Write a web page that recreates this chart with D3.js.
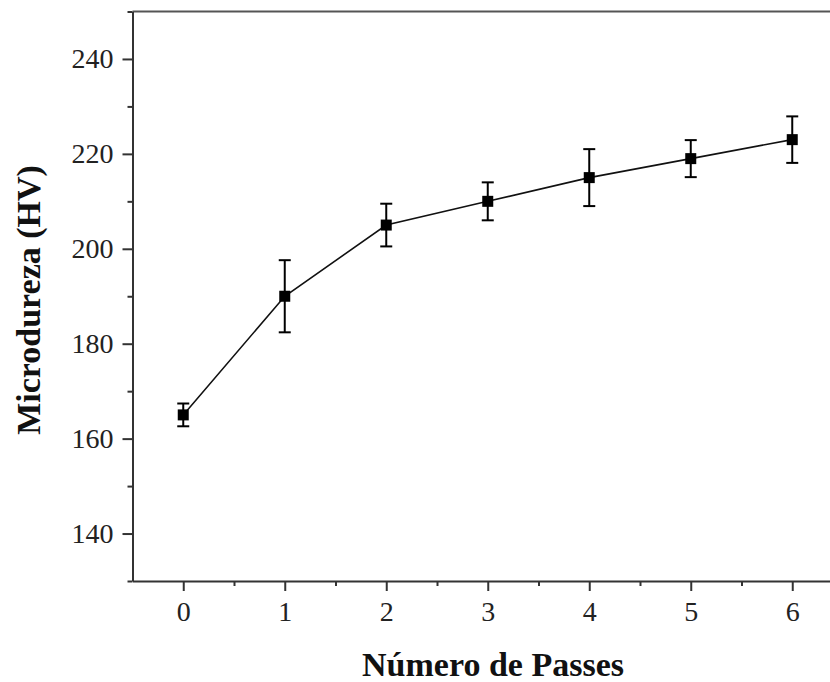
<!DOCTYPE html>
<html><head><meta charset="utf-8">
<script src="https://cdn.jsdelivr.net/npm/d3@7"></script>
<style>body{margin:0;background:#fff;overflow:hidden}svg{display:block}</style>
</head><body>
<svg id="c" width="830" height="682"></svg>
<script>
const passes = [0, 1, 2, 3, 4, 5, 6];
const hardness = [165, 190, 205, 210, 215, 219, 223];
const errors = [2.4, 7.6, 4.5, 4.0, 6.0, 3.9, 4.9];
const yTicks = [140, 160, 180, 200, 220, 240];
const xTicks = [0, 1, 2, 3, 4, 5, 6];

const svg = d3.select("#c");
const L = 132.5, T = 11.5, B = 581, R = 843;
const x = d3.scaleLinear().domain([-0.5, 6.5]).range([L, R]);
const y = d3.scaleLinear().domain([130, 250]).range([B, T]);
const font = "'Liberation Serif','Times New Roman',serif";

// top border
svg.append("line").attr("x1", L).attr("x2", 830).attr("y1", T).attr("y2", T)
  .attr("stroke", "#555").attr("stroke-width", 2);

// x axis
const xa = svg.append("g").attr("transform", `translate(0,${B})`)
  .call(d3.axisBottom(x).tickValues(xTicks).tickSize(10).tickSizeOuter(0).tickPadding(10).tickFormat(d3.format("d")));
const xm = svg.append("g").attr("transform", `translate(0,${B})`)
  .call(d3.axisBottom(x).tickValues(d3.range(-0.5, 6.6, 1).filter(v => v > -0.5)).tickSize(5).tickSizeOuter(0).tickFormat(""));
xm.select(".domain").remove();

// y axis
const ya = svg.append("g").attr("transform", `translate(${L},0)`)
  .call(d3.axisLeft(y).tickValues(yTicks).tickSize(10).tickSizeOuter(0).tickPadding(9));
const ym = svg.append("g").attr("transform", `translate(${L},0)`)
  .call(d3.axisLeft(y).tickValues(d3.range(130, 251, 10).filter(v => v % 20 !== 0)).tickSize(5).tickSizeOuter(0).tickFormat(""));
ym.select(".domain").remove();

[xa, xm, ya, ym].forEach(g => {
  g.selectAll(".domain").attr("stroke", "#333").attr("stroke-width", 2);
  g.selectAll(".tick line").attr("stroke", "#333").attr("stroke-width", 2);
  g.selectAll("text").attr("font-family", font).attr("font-size", 28).attr("fill", "#222");
});

// line
svg.append("path").datum(passes.map((p, i) => [p, hardness[i]]))
  .attr("fill", "none").attr("stroke", "#111").attr("stroke-width", 1.6)
  .attr("d", d3.line().x(d => x(d[0])).y(d => y(d[1])));

// error bars
const eb = svg.append("g").attr("stroke", "#000").attr("stroke-width", 2);
passes.forEach((p, i) => {
  const cx = x(p), y1 = y(hardness[i] + errors[i]), y2 = y(hardness[i] - errors[i]);
  eb.append("line").attr("x1", cx).attr("x2", cx).attr("y1", y1).attr("y2", y2);
  eb.append("line").attr("x1", cx - 6).attr("x2", cx + 6).attr("y1", y1).attr("y2", y1);
  eb.append("line").attr("x1", cx - 6).attr("x2", cx + 6).attr("y1", y2).attr("y2", y2);
});

// markers
svg.append("g").selectAll("rect").data(passes).join("rect")
  .attr("x", (d) => x(d) - 5.5).attr("y", (d, i) => y(hardness[i]) - 5.5)
  .attr("width", 11).attr("height", 11).attr("fill", "#000");

// axis titles
svg.append("text").attr("x", 493).attr("y", 676).attr("text-anchor", "middle")
  .attr("font-family", font).attr("font-size", 34).attr("font-weight", "bold").attr("fill", "#111")
  .text("Número de Passes");
svg.append("text").attr("transform", `translate(40,300) rotate(-90)`).attr("text-anchor", "middle")
  .attr("font-family", font).attr("font-size", 34).attr("font-weight", "bold").attr("fill", "#111")
  .text("Microdureza (HV)");
</script>
</body></html>
